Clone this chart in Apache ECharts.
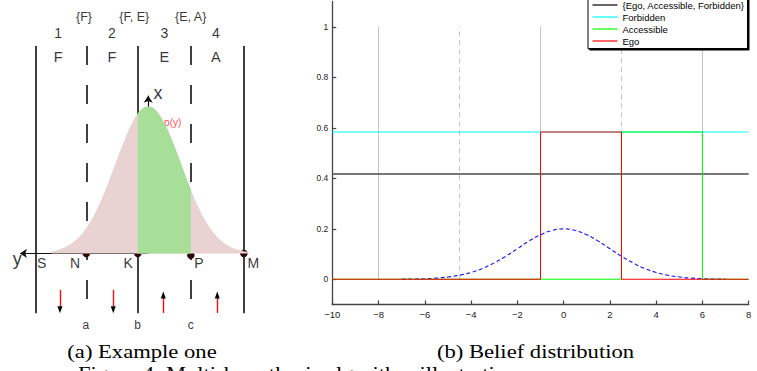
<!DOCTYPE html>
<html>
<head>
<meta charset="utf-8">
<script src="https://cdn.jsdelivr.net/npm/echarts@6/dist/echarts.min.js"></script>
<style>
  html, body { margin: 0; padding: 0; background: #fff; }
  #chart { width: 757px; height: 371px; }
</style>
</head>
<body>
<div id="chart"></div>
<script>
// ---- (a) illustration, in lane units (S=0 ... M=4) and belief height (peak = 1)
const laneSolidU = [0, 1.96, 4.0];
const laneDashedU = [0.97, 2.98];
const laneTopV = 1.412;
const laneBottomV = -0.407;

const beliefU = [0.3, 0.4, 0.5, 0.6, 0.7, 0.8, 0.9, 1.0, 1.1, 1.2, 1.3, 1.4, 1.5, 1.6, 1.7, 1.8, 1.9, 1.96,
  2.0, 2.1, 2.2, 2.3, 2.4, 2.5, 2.6, 2.7, 2.8, 2.9, 2.98, 3.0, 3.1, 3.2, 3.3, 3.4, 3.5, 3.6, 3.7, 3.8, 3.9, 4.0, 4.1];
const beliefV = [0.012, 0.022, 0.033, 0.049, 0.071, 0.101, 0.140, 0.189, 0.248, 0.319, 0.400, 0.489, 0.583, 0.678, 0.769, 0.852, 0.920, 0.952,
  0.969, 0.996, 0.998, 0.976, 0.931, 0.867, 0.787, 0.697, 0.602, 0.507, 0.435, 0.417, 0.334, 0.262, 0.200, 0.149, 0.108, 0.076, 0.053, 0.036, 0.023, 0.015, 0.009];
const accessibleRange = [1.96, 2.98];

const robotU = 2.16;
const xArrowTopV = 1.074;
const yArrowEndU = -0.306;

const pointNames = ['N', 'K', 'P', 'M'];
const pointU = [0.97, 1.96, 2.98, 4.0];
const pointV = [0, 0, -0.012, 0];

const downArrowU = [0.463, 1.488];
const upArrowU = [2.45, 3.488];

const setLabels = ['{F}', '{F, E}', '{E, A}'];
const setLabelU = [0.925, 1.892, 2.977];
const laneNumbers = ['1', '2', '3', '4'];
const laneLetters = ['F', 'F', 'E', 'A'];
const laneCenterU = [0.43, 1.46, 2.47, 3.46];
const cornerLabels = ['S', 'N', 'K', 'P', 'M'];
const cornerLabelU = [0.11, 0.752, 1.777, 3.137, 4.181];
const boundaryLabels = ['a', 'b', 'c'];
const boundaryLabelU = [0.963, 1.958, 2.977];

// ---- (b) belief distribution
const guideSolidX = [-8, -1, 6];
const guideDashedX = [-4.5, 2.5];
const yTicks = [0, 0.2, 0.4, 0.6, 0.8, 1];

const allX = [-10, 8];
const allY = [0.417, 0.417];
const forbiddenX = [-10, 8];
const forbiddenY = [0.583, 0.583];
const accessibleX = [-10, 2.5, 2.5, 6, 6, 8];
const accessibleY = [0, 0, 0.583, 0.583, 0, 0];
const egoX = [-10, -1, -1, 2.5, 2.5, 8];
const egoY = [0, 0, 0.583, 0.583, 0, 0];

const gaussX = [-7, -6.5, -6, -5.5, -5, -4.5, -4, -3.5, -3, -2.5, -2, -1.5, -1, -0.5, 0,
  0.5, 1, 1.5, 2, 2.5, 3, 3.5, 4, 4.5, 5, 5.5, 6, 6.5, 7];
const gaussY = [0.0004, 0.001, 0.002, 0.0045, 0.009, 0.016, 0.027, 0.043, 0.065, 0.091, 0.121, 0.151, 0.176, 0.193, 0.1995,
  0.193, 0.176, 0.151, 0.121, 0.091, 0.065, 0.043, 0.027, 0.016, 0.009, 0.0045, 0.002, 0.001, 0.0004];

const zip = (xs, ys) => xs.map((x, i) => [x, ys[i]]);
const sans = 'Liberation Sans';
const serif = 'Liberation Serif';

const chart = echarts.init(document.getElementById('chart'), null, { renderer: 'svg' });

function textSeries(names, us, v, fontSize, color) {
  return {
    type: 'scatter',
    xAxisIndex: 0, yAxisIndex: 0,
    silent: true,
    symbolSize: 1,
    itemStyle: { color: 'rgba(0,0,0,0)' },
    data: names.map((n, i) => ({ name: n, value: [us[i], v] })),
    label: {
      show: true,
      position: 'inside',
      formatter: p => p.name,
      fontFamily: sans,
      fontSize: fontSize,
      color: color || '#000'
    }
  };
}

function segments(list) {
  return list.map(c => ({ coords: c }));
}

const beliefData = zip(beliefU, beliefV);
const accessibleData = beliefData.filter(d => d[0] >= accessibleRange[0] && d[0] <= accessibleRange[1]);

const option = {
  animation: false,
  grid: [
    { left: 0, top: 0, width: 260, height: 371 },
    { left: 332.3, right: 8.3, top: 1.5, bottom: 66.5 }
  ],
  xAxis: [
    { gridIndex: 0, type: 'value', min: -0.69, max: 4.31, show: false },
    {
      gridIndex: 1, type: 'value', min: -10, max: 8, interval: 2,
      axisLine: { show: true, onZero: false, lineStyle: { color: '#444', width: 1.3 } },
      axisTick: { show: true, inside: true, length: 4, lineStyle: { color: '#444', width: 1.2 } },
      axisLabel: {
        margin: 5, fontFamily: sans, fontSize: 9.5, color: '#222',
        formatter: v => (v < 0 ? '\u2212' + Math.abs(v) : String(v))
      },
      splitLine: { show: false }
    }
  ],
  yAxis: [
    { gridIndex: 0, type: 'value', min: -0.8, max: 1.725, show: false },
    {
      gridIndex: 1, type: 'value', min: -0.1, max: 1.1,
      axisLine: { show: true, onZero: false, lineStyle: { color: '#444', width: 1.3 } },
      axisTick: { show: true, inside: true, length: 4, customValues: yTicks, lineStyle: { color: '#444', width: 1.2 } },
      axisLabel: {
        margin: 4, fontFamily: sans, fontSize: 8.5, color: '#222',
        customValues: yTicks,
        formatter: v => String(+v.toFixed(1))
      },
      splitLine: { show: false }
    }
  ],
  legend: {
    data: [
      { name: '{Ego, Accessible, Forbidden}', icon: 'rect', itemStyle: { color: '#000' } },
      { name: 'Forbidden', icon: 'rect', itemStyle: { color: '#00ffff' } },
      { name: 'Accessible', icon: 'rect', itemStyle: { color: '#00ff00' } },
      { name: 'Ego', icon: 'rect', itemStyle: { color: '#ff0000' } }
    ],
    orient: 'vertical',
    left: 588,
    top: -2,
    padding: [1, 3, 1.5, 4.5],
    itemWidth: 25,
    itemHeight: 1.2,
    itemGap: 0,
    selectedMode: false,
    backgroundColor: '#fff',
    borderColor: '#000',
    borderWidth: 1,
    shadowColor: '#000',
    shadowBlur: 0,
    shadowOffsetX: 1.5,
    shadowOffsetY: 1.5,
    textStyle: { fontFamily: sans, fontSize: 9.5, color: '#000', lineHeight: 12 }
  },
  graphic: [
    {
      type: 'text', x: 142, y: 351.5, scaleX: 1.19, silent: true,
      style: { text: '(a) Example one', fontFamily: serif, fontSize: 19, fill: '#000', textAlign: 'center', textVerticalAlign: 'middle' }
    },
    {
      type: 'text', x: 535.5, y: 351.5, scaleX: 1.19, silent: true,
      style: { text: '(b) Belief distribution', fontFamily: serif, fontSize: 19, fill: '#000', textAlign: 'center', textVerticalAlign: 'middle' }
    },
    {
      type: 'text', x: 78, y: 364.5, scaleX: 1.19, silent: true,
      style: { text: 'Figure 4: Multi-hypothesis algorithm illustration', fontFamily: serif, fontSize: 19, fill: '#000', textAlign: 'left', textVerticalAlign: 'top' }
    }
  ],
  series: [
    // ---------- (a)
    {
      type: 'line', xAxisIndex: 0, yAxisIndex: 0, silent: true, clip: false,
      data: beliefData, smooth: 0.3, symbol: 'none',
      lineStyle: { width: 0 },
      areaStyle: { color: '#e8d2d2', opacity: 1 }
    },
    {
      type: 'line', xAxisIndex: 0, yAxisIndex: 0, silent: true, clip: false,
      data: accessibleData, smooth: 0.3, symbol: 'none',
      lineStyle: { width: 0 },
      areaStyle: { color: '#a8df98', opacity: 1 }
    },
    {
      type: 'lines', coordinateSystem: 'cartesian2d', xAxisIndex: 0, yAxisIndex: 0, silent: true,
      data: segments(laneSolidU.map(u => [[u, laneTopV], [u, laneBottomV]])),
      lineStyle: { color: '#111', width: 1.6, opacity: 1, curveness: 0 }
    },
    {
      type: 'lines', coordinateSystem: 'cartesian2d', xAxisIndex: 0, yAxisIndex: 0, silent: true,
      data: segments(laneDashedU.map(u => [[u, laneTopV], [u, laneBottomV]])),
      lineStyle: { color: '#111', width: 1.6, opacity: 1, curveness: 0, type: [19, 20] }
    },
    {
      type: 'lines', coordinateSystem: 'cartesian2d', xAxisIndex: 0, yAxisIndex: 0, silent: true,
      data: segments([[[robotU, 0], [robotU, xArrowTopV]], [[robotU, 0], [yArrowEndU, 0]]]),
      symbol: ['none', 'arrow'], symbolSize: 7,
      lineStyle: { color: '#111', width: 1.2, opacity: 1, curveness: 0 }
    },
    {
      type: 'scatter', xAxisIndex: 0, yAxisIndex: 0, silent: true,
      data: pointNames.map((n, i) => ({ name: n, value: [pointU[i], pointV[i]] })),
      symbol: 'circle', symbolSize: 7.5, itemStyle: { color: '#2e0707', opacity: 1 }
    },
    {
      type: 'lines', coordinateSystem: 'cartesian2d', xAxisIndex: 0, yAxisIndex: 0, silent: true,
      data: segments(downArrowU.map(u => [[u, -0.248], [u, -0.36]]).concat(upArrowU.map(u => [[u, -0.29], [u, -0.405]]))),
      lineStyle: { color: '#f01010', width: 1.4, opacity: 1, curveness: 0 }
    },
    {
      type: 'scatter', xAxisIndex: 0, yAxisIndex: 0, silent: true,
      data: downArrowU.map(u => ({ value: [u, -0.383], symbolRotate: 180 }))
        .concat(upArrowU.map(u => ({ value: [u, -0.283], symbolRotate: 0 }))),
      symbol: 'triangle', symbolSize: [5, 7],
      itemStyle: { color: '#000', opacity: 1 }
    },
    textSeries(setLabels, setLabelU, 1.608, 12.5),
    textSeries(laneNumbers, laneCenterU, 1.499, 14),
    textSeries(laneLetters, laneCenterU, 1.334, 14.5),
    textSeries(cornerLabels, cornerLabelU, -0.067, 14),
    textSeries(boundaryLabels, boundaryLabelU, -0.487, 12),
    textSeries(['y'], [-0.36], -0.04, 18),
    textSeries(['x'], [2.35], 1.09, 18),
    textSeries(['p(y)'], [2.631], 0.89, 10, '#ff2020'),

    // ---------- (b)
    {
      type: 'lines', coordinateSystem: 'cartesian2d', xAxisIndex: 1, yAxisIndex: 1, silent: true,
      data: segments(guideSolidX.map(x => [[x, 0], [x, 1]])),
      lineStyle: { color: '#c4c4c4', width: 1, opacity: 1, curveness: 0 }
    },
    {
      type: 'lines', coordinateSystem: 'cartesian2d', xAxisIndex: 1, yAxisIndex: 1, silent: true,
      data: segments(guideDashedX.map(x => [[x, 0], [x, 1]])),
      lineStyle: { color: '#c4c4c4', width: 1, opacity: 1, curveness: 0, type: [5, 4] }
    },
    {
      name: 'belief', type: 'line', xAxisIndex: 1, yAxisIndex: 1, silent: true,
      data: zip(gaussX, gaussY), smooth: true, symbol: 'none',
      lineStyle: { color: '#1515ff', width: 1.1, type: [4, 2.5] }
    },
    {
      name: '{Ego, Accessible, Forbidden}', type: 'line', xAxisIndex: 1, yAxisIndex: 1, silent: true,
      data: zip(allX, allY), symbol: 'none',
      lineStyle: { color: '#4a4a4a', width: 1.6 }, itemStyle: { color: '#000' }
    },
    {
      name: 'Forbidden', type: 'line', xAxisIndex: 1, yAxisIndex: 1, silent: true,
      data: zip(forbiddenX, forbiddenY), symbol: 'none',
      lineStyle: { color: '#00ffff', width: 1 }, itemStyle: { color: '#00ffff' }
    },
    {
      name: 'Accessible', type: 'line', xAxisIndex: 1, yAxisIndex: 1, silent: true,
      data: zip(accessibleX, accessibleY), symbol: 'none',
      lineStyle: { color: '#00ff00', width: 1 }, itemStyle: { color: '#00ff00' }
    },
    {
      name: 'Ego', type: 'line', xAxisIndex: 1, yAxisIndex: 1, silent: true,
      data: zip(egoX, egoY), symbol: 'none',
      lineStyle: { color: '#ff0000', width: 1 }, itemStyle: { color: '#ff0000' }
    }
  ]
};

chart.setOption(option);
</script>
</body>
</html>
